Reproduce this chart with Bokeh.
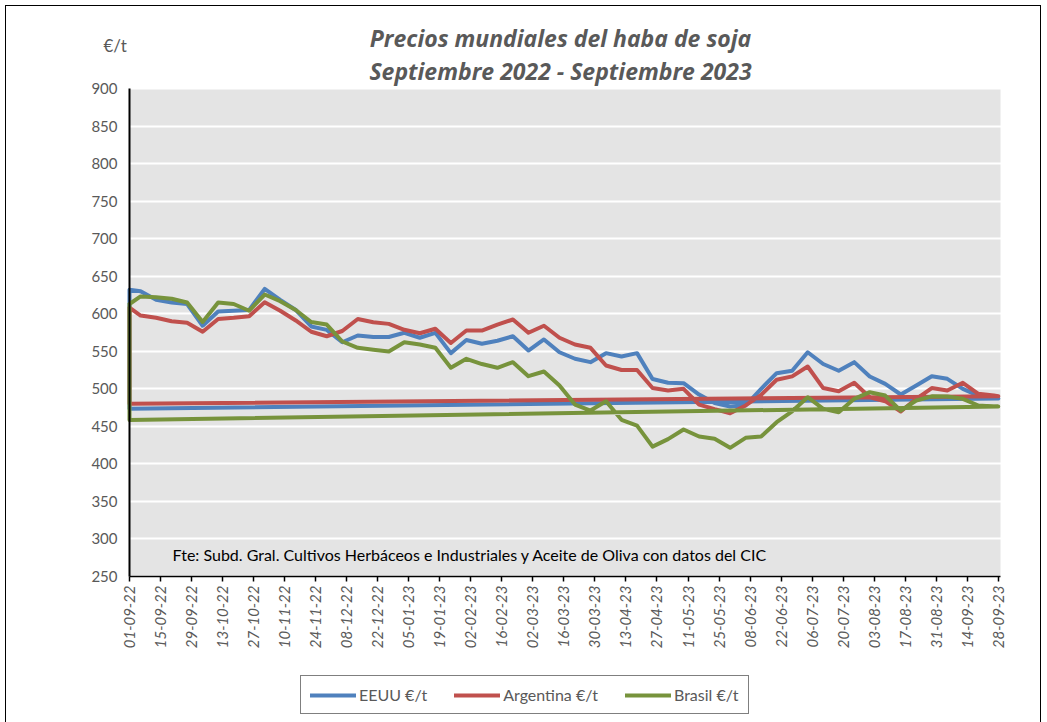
import math
import pandas as pd
from bokeh.plotting import figure
from bokeh.models import (Range1d, FixedTicker, DatetimeTickFormatter, Label, Legend,
                          LegendItem, BoxAnnotation)
from bokeh.embed import file_html
from bokeh.resources import INLINE

# ---------------- data ----------------
first_date = "2022-09-01"
weekly_dates = [d.strftime("%Y-%m-%d") for d in pd.date_range("2022-09-06", periods=56, freq="7D")]
dates = [first_date] + weekly_dates

eeuu = [632, 630, 618.5, 615, 613, 584, 603, 604, 605, 633, 618.5, 605, 583, 578.5, 562,
        571, 569, 569, 574.6, 568, 574.6, 547.5, 565, 560, 564, 570, 551, 565.7, 548.7,
        540, 535.5, 547.5, 543, 547.5, 513, 508, 507.5, 492.4, 481, 476.4, 478, 500, 520.8,
        524, 548.7, 533, 524, 535.5, 516.4, 506.6, 492.4, 504.4, 516.8, 513.3, 500, 491, 488.8]

argentina = [608, 597.6, 594.6, 590, 588, 576, 593, 594.6, 596.7, 615.4, 604, 591, 576, 570, 577,
             593, 588.7, 586.5, 578.6, 574, 580, 561, 577.6, 577.6, 585.6, 592.3, 574.6, 584, 568,
             559, 554.6, 531, 525, 525, 501, 497.7, 500, 479, 473, 467.5, 477.8, 492, 512,
             516.5, 529.7, 501, 496.8, 508, 488.8, 483.5, 469.8, 486.7, 501, 497.7, 508, 493.3, 491]

brasil = [613, 623, 622, 620, 615, 589, 615, 613, 604, 625.6, 616.7, 605, 589, 585.6, 563,
          554.6, 552, 549.7, 562, 559, 554.6, 528, 540, 533, 528, 535.5, 516.8, 523, 504.4,
          479, 471, 483.5, 458.7, 451, 423, 433, 445.8, 436.5, 433.4, 421.4, 434.7, 436.5, 455.5,
          470, 488.8, 473.3, 468.8, 486.7, 495.5, 491, 471, 484.4, 490, 489.7, 486.7, 477.8, 476.4]

# linear trend end points (start at 01-09-22, end at 28-09-23)
trend_dates = ["2022-09-01", "2023-09-28"]
eeuu_trend = [473.5, 487]
argentina_trend = [480, 490]
brasil_trend = [458.5, 476.5]

tick_dates = [d for d in pd.date_range("2022-09-01", "2023-09-28", freq="14D")]
y_ticks = list(range(250, 901, 50))
y_min, y_max = 250, 900

series_names = ["EEUU €/t", "Argentina €/t", "Brasil €/t"]
series_colors = ["#4F81BD", "#C0504D", "#77933C"]

title_line1 = "Precios mundiales del haba de soja"
title_line2 = "Septiembre 2022 - Septiembre 2023"
unit_text = "€/t"
source_text = "Fte: Subd. Gral. Cultivos Herbáceos e Industriales y Aceite de Oliva con datos del CIC"

# ---------------- helpers ----------------
EPOCH = pd.Timestamp("1970-01-01")


def ms(d):
    return (pd.Timestamp(d) - EPOCH) / pd.Timedelta("1ms")


GREY = "#595959"
FONT = "Lato"
TFONT = "Open Sans"

W, H = 1047, 722
FRAME_LEFT, FRAME_RIGHT = 90, 1030
PLOT_LEFT, PLOT_RIGHT, PLOT_TOP, PLOT_BOTTOM = 129, 1000, 88, 576   # grey plot area in pixels

x_start = ms("2022-09-01")
x_end = ms("2023-09-28") + 24 * 3600 * 1000
px_per_ms = (PLOT_RIGHT - PLOT_LEFT) / (x_end - x_start)
xr_start = x_start - (PLOT_LEFT - FRAME_LEFT) / px_per_ms
xr_end = x_end + (FRAME_RIGHT - PLOT_RIGHT) / px_per_ms

px_per_unit = (PLOT_BOTTOM - PLOT_TOP) / (y_max - y_min)
yr_end = y_max + PLOT_TOP / px_per_unit
yr_start = y_max - (H - PLOT_TOP) / px_per_unit


def sx(px):
    """page x pixel -> screen units relative to the frame"""
    return px - FRAME_LEFT


def sy(py):
    """page y pixel -> screen units relative to the frame bottom"""
    return H - py


p = figure(width=W, height=H, x_axis_type="datetime", output_backend="svg",
           toolbar_location=None,
           x_range=Range1d(xr_start, xr_end), y_range=Range1d(yr_start, yr_end),
           min_border_left=FRAME_LEFT, min_border_right=W - FRAME_RIGHT,
           min_border_top=0, min_border_bottom=0)
p.background_fill_color = "white"
p.background_fill_alpha = 0
p.border_fill_color = "white"
p.border_fill_alpha = 0
p.outline_line_color = None
# outer chart border (left, top, right sides)
p.styles = {"box-shadow": ("inset 5px 0 0 0 white, inset -6px 0 0 0 white, inset 0 5px 0 0 white, "
                           "inset 6px 0 0 0 black, inset -7px 0 0 0 black, inset 0 6px 0 0 black")}

# grey plot area
p.add_layout(BoxAnnotation(left=x_start, right=x_end, bottom=y_min, top=y_max,
                           fill_color="#E4E4E4", fill_alpha=1, line_color=None, level="image"))

# grid
p.xgrid.grid_line_color = None
p.ygrid.grid_line_color = "white"
p.ygrid.grid_line_width = 2
p.ygrid.ticker = FixedTicker(ticks=y_ticks)

# y axis, drawn at the first date
p.yaxis.fixed_location = x_start
p.yaxis.ticker = FixedTicker(ticks=y_ticks)
p.yaxis.bounds = (y_min, y_max)
p.yaxis.axis_line_color = "black"
p.yaxis.axis_line_width = 2
p.yaxis.major_tick_line_color = None
p.yaxis.minor_tick_line_color = None
p.yaxis.major_label_standoff = 6
p.yaxis.major_label_text_font = FONT
p.yaxis.major_label_text_font_size = "15px"
p.yaxis.major_label_text_color = GREY

# x axis, drawn at the value-axis minimum
p.xaxis.fixed_location = y_min
p.xaxis.ticker = FixedTicker(ticks=[ms(d) for d in tick_dates])
p.xaxis.bounds = (x_start, x_end)
fmt = "%d-%m-%y"
p.xaxis.formatter = DatetimeTickFormatter(days=fmt, months=fmt, years=fmt, hours=fmt,
                                          hourmin=fmt, minutes=fmt, seconds=fmt,
                                          milliseconds=fmt, minsec=fmt)
p.xaxis.major_label_orientation = math.pi / 2
p.xaxis.axis_line_color = "black"
p.xaxis.axis_line_width = 1.5
p.xaxis.major_tick_line_color = "black"
p.xaxis.major_tick_line_width = 1.5
p.xaxis.major_tick_out = 5
p.xaxis.major_tick_in = 0
p.xaxis.minor_tick_line_color = None
p.xaxis.major_label_standoff = 4
p.xaxis.major_label_text_font = FONT
p.xaxis.major_label_text_font_size = "15px"
p.xaxis.major_label_text_font_style = "italic"
p.xaxis.major_label_text_color = GREY

# lines: data, then trend back to start, then up to first value
renderers = []
for vals, trend, color in zip([eeuu, argentina, brasil],
                              [eeuu_trend, argentina_trend, brasil_trend], series_colors):
    xs = [pd.Timestamp(d) for d in dates] + [pd.Timestamp(trend_dates[1]), pd.Timestamp(trend_dates[0]),
                                             pd.Timestamp(dates[0])]
    ys = list(vals) + [trend[1], trend[0], vals[0]]
    r = p.line(xs, ys, line_color=color, line_width=4, line_join="round", line_cap="round")
    renderers.append(r)

# titles and texts
p.add_layout(Label(x=sx(560), y=sy(37), x_units="screen", y_units="screen", text=title_line1,
                   text_align="center", text_baseline="middle", text_font=TFONT,
                   text_font_size="23px", text_font_style="bold italic", text_color=GREY))
p.add_layout(Label(x=sx(560), y=sy(70), x_units="screen", y_units="screen", text=title_line2,
                   text_align="center", text_baseline="middle", text_font=TFONT,
                   text_font_size="23px", text_font_style="bold italic", text_color=GREY))
p.add_layout(Label(x=sx(103), y=sy(45), x_units="screen", y_units="screen", text=unit_text,
                   text_align="left", text_baseline="middle", text_font=FONT,
                   text_font_size="17px", text_color=GREY))
p.add_layout(Label(x=sx(172), y=sy(554), x_units="screen", y_units="screen",
                   text=source_text, text_align="left", text_baseline="middle", text_font=FONT,
                   text_font_size="16px", text_color="black"))

# legend below the axis labels
legend = Legend(items=[LegendItem(label=n, renderers=[r]) for n, r in zip(series_names, renderers)],
                orientation="horizontal", location=(sx(300), sy(714)), margin=0,
                border_line_color="black", border_line_width=1,
                background_fill_color="white", background_fill_alpha=1,
                padding=9, spacing=27, glyph_width=46, glyph_height=18, label_height=18,
                label_standoff=3, label_text_font=FONT, label_text_font_size="16px",
                label_text_color=GREY)
p.add_layout(legend, "center")

open("out.html", "w").write(file_html(p, INLINE))
